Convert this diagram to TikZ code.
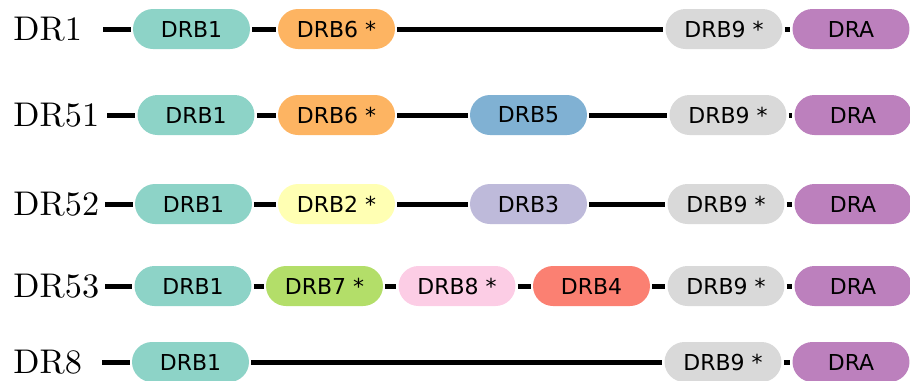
\documentclass[tikz,border=0pt]{standalone}
\usepackage{fontspec}
\newfontfamily\genefont{DejaVu Sans}
\newfontfamily\haplofont[Extension=.otf]{lmroman10-regular}
\definecolor{cDRBa}{HTML}{8DD3C7}
\definecolor{cDRBb}{HTML}{FFFFB3}
\definecolor{cDRBc}{HTML}{BEBADA}
\definecolor{cDRBd}{HTML}{FB8072}
\definecolor{cDRBe}{HTML}{80B1D3}
\definecolor{cDRBf}{HTML}{FDB462}
\definecolor{cDRBg}{HTML}{B3DE69}
\definecolor{cDRBh}{HTML}{FCCDE5}
\definecolor{cDRBi}{HTML}{D9D9D9}
\definecolor{cDRA}{HTML}{BC80BD}

\begin{document}
\begin{tikzpicture}[x=0.02cm, y=-0.02cm]
\tikzstyle{every path}=[line width=0.1cm];
\tikzstyle{gene}=[rounded corners=0.4cm, minimum width=2.34cm, minimum height=0.8cm, inner sep=0pt, font=\genefont\fontsize{12.5}{15}\selectfont];
\tikzstyle{haplo}=[anchor=west, inner sep=0pt, font=\haplofont\fontsize{19.5}{24}\selectfont];
\useasboundingbox (0,0) rectangle (910,380);

% DR1
\path (11,29) node (dr1)[haplo] {DR1}
(191.5,29) node (dr1b1)[gene, fill=cDRBa] {DRB1}
(336.5,29) node (dr1b6)[gene, fill=cDRBf] {DRB6 *}
(724,29) node (dr1b9)[gene, fill=cDRBi] {DRB9 *}
(851,29) node (dr1a)[gene, fill=cDRA] {DRA};
\coordinate (dr1s) at (103,29);
\draw (dr1s) -- (dr1b1) -- (dr1b6) -- (dr1b9) -- (dr1a);

% DR51
\path (11,115) node (dr51)[haplo] {DR51}
(196,115) node (dr51b1)[gene, fill=cDRBa] {DRB1}
(336.5,115) node (dr51b6)[gene, fill=cDRBf] {DRB6 *}
(528.5,115) node (dr51b5)[gene, fill=cDRBe] {DRB5}
(728,115) node (dr51b9)[gene, fill=cDRBi] {DRB9 *}
(853,115) node (dr51a)[gene, fill=cDRA] {DRA};
\coordinate (dr51s) at (107,115);
\draw (dr51s) -- (dr51b1) -- (dr51b6) -- (dr51b5) -- (dr51b9) -- (dr51a);

% DR52
\path (11,204) node (dr52)[haplo] {DR52}
(193.5,204) node (dr52b1)[gene, fill=cDRBa] {DRB1}
(336.5,204) node (dr52b2)[gene, fill=cDRBb] {DRB2 *}
(528.5,204) node (dr52b3)[gene, fill=cDRBc] {DRB3}
(726,204) node (dr52b9)[gene, fill=cDRBi] {DRB9 *}
(853,204) node (dr52a)[gene, fill=cDRA] {DRA};
\coordinate (dr52s) at (105,204);
\draw (dr52s) -- (dr52b1) -- (dr52b2) -- (dr52b3) -- (dr52b9) -- (dr52a);

% DR53
\path (11,286) node (dr53)[haplo] {DR53}
(193,286) node (dr53b1)[gene, fill=cDRBa] {DRB1}
(324.5,286) node (dr53b7)[gene, fill=cDRBg] {DRB7 *}
(457,286) node (dr53b8)[gene, fill=cDRBh] {DRB8 *}
(591.5,286) node (dr53b4)[gene, fill=cDRBd] {DRB4}
(726,286) node (dr53b9)[gene, fill=cDRBi] {DRB9 *}
(853,286) node (dr53a)[gene, fill=cDRA] {DRA};
\coordinate (dr53s) at (105,286);
\draw (dr53s) -- (dr53b1) -- (dr53b7) -- (dr53b8) -- (dr53b4) -- (dr53b9) -- (dr53a);

% DR8
\path (11,362) node (dr8)[haplo] {DR8}
(190.5,362) node (dr8b1)[gene, fill=cDRBa] {DRB1}
(723,362) node (dr8b9)[gene, fill=cDRBi] {DRB9 *}
(851,362) node (dr8a)[gene, fill=cDRA] {DRA};
\coordinate (dr8s) at (102,362);
\draw (dr8s) -- (dr8b1) -- (dr8b9) -- (dr8a);
\end{tikzpicture}
\end{document}
